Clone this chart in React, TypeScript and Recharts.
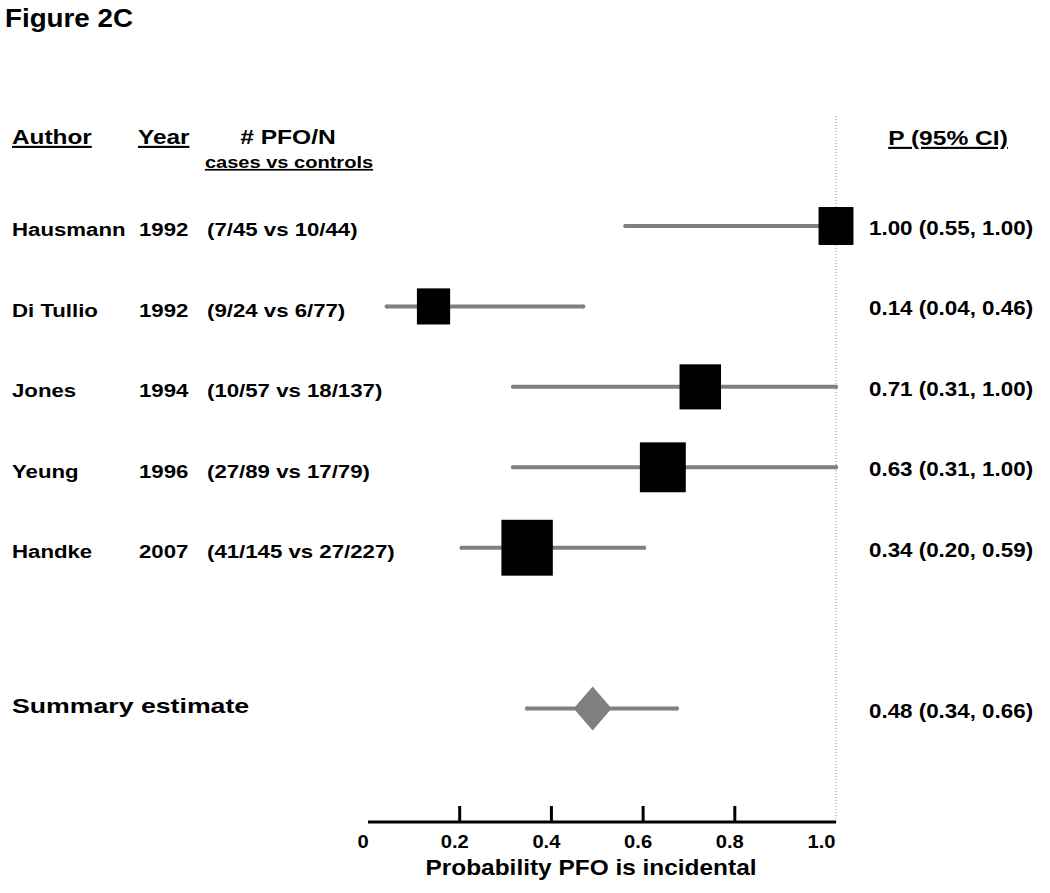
import React from "react";
import { ErrorBar, ReferenceLine, Scatter, ScatterChart, XAxis, YAxis } from "recharts";

const authors = ["Hausmann", "Di Tullio", "Jones", "Yeung", "Handke"];
const years = ["1992", "1992", "1994", "1996", "2007"];
const counts = [
  "(7/45 vs 10/44)",
  "(9/24 vs 6/77)",
  "(10/57 vs 18/137)",
  "(27/89 vs 17/79)",
  "(41/145 vs 27/227)",
];
const estimates = [1.0, 0.14, 0.71, 0.63, 0.34];
const lower = [0.55, 0.04, 0.31, 0.31, 0.2];
const upper = [1.0, 0.46, 1.0, 1.0, 0.59];
// relative study weight
const weights = [16.5, 15.7, 19.6, 21.7, 24.3];

const summaryLabel = "Summary estimate";
const summaryEstimate = 0.48;
const summaryLower = 0.34;
const summaryUpper = 0.66;

const xTicks = [0, 0.2, 0.4, 0.6, 0.8, 1.0];

const FONT = '"Liberation Sans", Arial, Helvetica, sans-serif';
const W = 1050;
const H = 893;
const AXIS_Y = 822;
const GRAY = "#808080";

const summaryRow = authors.length + 2;

const studies = authors.map((a, i) => ({
  x: estimates[i],
  y: i + 1,
  err: [estimates[i] - lower[i], upper[i] - estimates[i]],
  weight: weights[i],
}));
const summaryData = [
  {
    x: summaryEstimate,
    y: summaryRow,
    err: [summaryEstimate - summaryLower, summaryUpper - summaryEstimate],
  },
];

const ci = (p: number, lo: number, hi: number) =>
  `${p.toFixed(2)} (${lo.toFixed(2)}, ${hi.toFixed(2)})`;

function Txt({
  x,
  y,
  size,
  sx,
  anchor = "start",
  underline,
  children,
}: {
  x: number;
  y: number;
  size: number;
  sx: number;
  anchor?: "start" | "middle" | "end";
  underline?: boolean;
  children: React.ReactNode;
}) {
  return (
    <text
      transform={`translate(${x},${y}) scale(${sx},1)`}
      x={0}
      y={0}
      fontSize={size}
      fontWeight={700}
      fontFamily={FONT}
      fill="#000"
      textAnchor={anchor}
      textDecoration={underline ? "underline" : undefined}
    >
      {children}
    </text>
  );
}

function LeftTick(props: any) {
  const { y, payload } = props;
  const row = payload.value;
  if (row === summaryRow) {
    return (
      <Txt x={12} y={y + 4} size={21} sx={1.27}>
        {summaryLabel}
      </Txt>
    );
  }
  const i = row - 1;
  return (
    <g>
      <Txt x={12} y={y + 10.5} size={19} sx={1.17}>
        {authors[i]}
      </Txt>
      <Txt x={139} y={y + 10.5} size={19} sx={1.17}>
        {years[i]}
      </Txt>
      <Txt x={207} y={y + 10.5} size={19} sx={1.17}>
        {counts[i]}
      </Txt>
    </g>
  );
}

function RightTick(props: any) {
  const { y, payload } = props;
  const row = payload.value;
  const text =
    row === summaryRow
      ? ci(summaryEstimate, summaryLower, summaryUpper)
      : ci(estimates[row - 1], lower[row - 1], upper[row - 1]);
  return (
    <Txt x={869} y={y + 9} size={21} sx={1.065}>
      {text}
    </Txt>
  );
}

function XTick(props: any) {
  const { x, payload } = props;
  const v = payload.value;
  const inner = v > 0 && v < 1;
  return (
    <g>
      {inner && (
        <line x1={x} x2={x} y1={AXIS_Y - 16} y2={AXIS_Y} stroke="#000" strokeWidth={3} />
      )}
      <Txt x={x - 5} y={848} size={18} sx={1.12} anchor="middle">
        {v === 0 ? "0" : v.toFixed(1)}
      </Txt>
    </g>
  );
}

function StudyBox(props: any) {
  const { cx, cy, payload } = props;
  const h = payload.weight * 2.3;
  const w = h * 0.92;
  return <rect x={cx - w / 2} y={cy - h / 2} width={w} height={h} fill="#000" />;
}

function Diamond(props: any) {
  const { cx, cy } = props;
  return (
    <polygon
      points={`${cx - 19},${cy} ${cx},${cy - 22} ${cx + 19},${cy} ${cx},${cy + 22}`}
      fill={GRAY}
    />
  );
}

const rowTicks = [...studies.map((s) => s.y), summaryRow];
const yDomain: [number, number] = [-0.38, 8.41];

export default function App() {
  return (
    <div style={{ position: "absolute", left: 0, top: 0, width: W, height: H, background: "#fff" }}>
      <ScatterChart width={W} height={H} margin={{ top: 115, right: 0, bottom: 0, left: 0 }}>
        <XAxis xAxisId="v" type="number" dataKey="x" domain={[0, 1]} hide />
        <XAxis
          xAxisId="tick"
          type="number"
          dataKey="x"
          domain={[0, 1.0207]}
          allowDataOverflow
          ticks={xTicks}
          interval={0}
          height={71}
          tickLine={false}
          axisLine={{ stroke: "#000", strokeWidth: 3 }}
          tick={<XTick />}
        />
        <YAxis
          yAxisId="rows"
          type="number"
          dataKey="y"
          domain={yDomain}
          allowDataOverflow
          reversed
          ticks={rowTicks}
          interval={0}
          width={368}
          axisLine={false}
          tickLine={false}
          tick={<LeftTick />}
        />
        <YAxis
          yAxisId="ci"
          orientation="right"
          type="number"
          dataKey="y"
          domain={yDomain}
          allowDataOverflow
          reversed
          ticks={rowTicks}
          interval={0}
          width={214}
          axisLine={false}
          tickLine={false}
          tick={<RightTick />}
        />
        <ReferenceLine
          xAxisId="v"
          yAxisId="rows"
          x={1}
          stroke="#8a8a8a"
          strokeWidth={1}
          strokeDasharray="1 2"
        />
        <Scatter
          xAxisId="v"
          yAxisId="rows"
          data={studies}
          shape={<StudyBox />}
          isAnimationActive={false}
        >
          <ErrorBar
            dataKey="err"
            direction="x"
            width={0}
            stroke={GRAY}
            strokeWidth={4}
            strokeLinecap="round"
            isAnimationActive={false}
          />
        </Scatter>
        <Scatter
          xAxisId="v"
          yAxisId="rows"
          data={summaryData}
          shape={<Diamond />}
          isAnimationActive={false}
        >
          <ErrorBar
            dataKey="err"
            direction="x"
            width={0}
            stroke={GRAY}
            strokeWidth={4}
            strokeLinecap="round"
            isAnimationActive={false}
          />
        </Scatter>
      </ScatterChart>
      <svg
        width={W}
        height={H}
        style={{ position: "absolute", left: 0, top: 0, pointerEvents: "none" }}
      >
        <Txt x={5} y={27} size={25} sx={1.11}>
          Figure 2C
        </Txt>
        <Txt x={12} y={144} size={21} sx={1.16} underline>
          Author
        </Txt>
        <Txt x={138} y={144} size={21} sx={1.16} underline>
          Year
        </Txt>
        <Txt x={288} y={144} size={21} sx={1.17} anchor="middle">
          # PFO/N
        </Txt>
        <Txt x={289} y={168} size={17} sx={1.18} anchor="middle" underline>
          cases vs controls
        </Txt>
        <Txt x={948} y={145} size={21} sx={1.17} anchor="middle" underline>
          P (95% CI)
        </Txt>
        <Txt x={591} y={875} size={22} sx={1.11} anchor="middle">
          Probability PFO is incidental
        </Txt>
      </svg>
    </div>
  );
}
